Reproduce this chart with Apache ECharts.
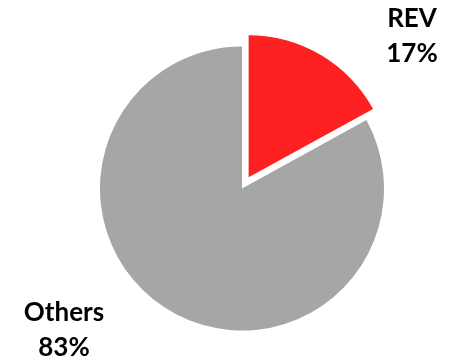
<!DOCTYPE html>
<html>
<head>
<meta charset="utf-8">
<script src="https://cdn.jsdelivr.net/npm/echarts@6/dist/echarts.min.js"></script>
<style>
  html, body { margin: 0; padding: 0; background: #fff; }
  #chart { width: 454px; height: 360px; }
</style>
</head>
<body>
<div id="chart"></div>
<script>
// Share of the total: REV versus everything else
const categories = ['REV', 'Others'];
const shares = [17, 83];
const sliceColors = ['#FF2121', '#A6A6A6'];

// Where each slice's caption sits (x, y of its centre)
const labelSpots = [[412, 36], [64, 330]];

const total = shares.reduce((a, b) => a + b, 0);

const chart = echarts.init(document.getElementById('chart'), null, { renderer: 'canvas' });

chart.setOption({
  animation: false,
  series: [{
    type: 'pie',
    center: [242, 188.5],
    radius: [0, 142],
    startAngle: 90,
    clockwise: true,
    selectedMode: 'single',
    selectedOffset: 13,
    data: categories.map((name, i) => ({
      name,
      value: shares[i],
      selected: name === 'REV',
      itemStyle: { color: sliceColors[i] }
    })),
    label: { show: false },
    labelLine: { show: false },
    emphasis: { disabled: true }
  }],
  // Captions: name on the first line, percentage of the total beneath
  graphic: categories.map((name, i) => ({
    type: 'text',
    x: labelSpots[i][0],
    y: labelSpots[i][1],
    style: {
      text: name + '\n' + Math.round(shares[i] / total * 100) + '%',
      fill: '#000',
      font: 'bold 26px Lato',
      lineHeight: 35,
      align: 'center',
      verticalAlign: 'middle'
    }
  }))
});
</script>
</body>
</html>
